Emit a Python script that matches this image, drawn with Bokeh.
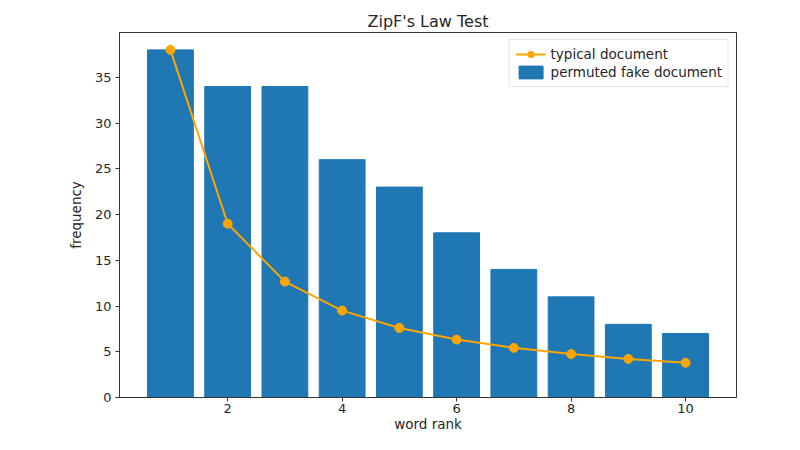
from bokeh.plotting import figure
from bokeh.models import FixedTicker, Range1d, Legend, LegendItem
from bokeh.embed import file_html
from bokeh.resources import INLINE

ranks = [1, 2, 3, 4, 5, 6, 7, 8, 9, 10]
fake_freq = [38, 34, 34, 26, 23, 18, 14, 11, 8, 7]
typical_freq = [38, 19, 12.67, 9.5, 7.6, 6.33, 5.43, 4.75, 4.22, 3.8]
x_ticks = [2, 4, 6, 8, 10]
y_ticks = [0, 5, 10, 15, 20, 25, 30, 35]

FONT = "DejaVu Sans"
TXT = "#262626"

p = figure(width=784, height=434, output_backend="svg", toolbar_location=None,
           x_range=Range1d(0.11, 10.89), y_range=Range1d(0, 39.9),
           title="ZipF's Law Test")
p.min_border_left = 119
p.min_border_right = 48
p.min_border_top = 32
p.min_border_bottom = 30
p.background_fill_color = "white"
p.border_fill_color = "white"
p.outline_line_color = "#333333"
p.outline_line_width = 1
p.grid.visible = False

p.title.align = "center"
p.title.text_font = FONT
p.title.text_font_size = "16px"
p.title.text_font_style = "normal"
p.title.text_color = TXT
p.title.offset = 0
p.title.standoff = 4

bars = p.vbar(x=ranks, top=fake_freq, width=0.8, color="#1f77b4")
ln = p.line(ranks, typical_freq, line_color="orange", line_width=2)
sc = p.scatter(ranks, typical_freq, size=9, color="orange")

for ax in (p.xaxis[0], p.yaxis[0]):
    ax.major_label_text_font = FONT
    ax.major_label_text_font_size = "13px"
    ax.major_label_text_color = TXT
    ax.axis_label_text_font = FONT
    ax.axis_label_text_font_size = "13.5px"
    ax.axis_label_text_font_style = "normal"
    ax.axis_label_text_color = TXT
    ax.minor_tick_line_color = None
    ax.major_tick_out = 4
    ax.major_tick_in = 0
    ax.axis_line_color = "#333333"
    ax.major_tick_line_color = "#333333"

p.xaxis[0].ticker = FixedTicker(ticks=x_ticks)
p.yaxis[0].ticker = FixedTicker(ticks=y_ticks)
p.xaxis[0].axis_label = "word rank"
p.yaxis[0].axis_label = "frequency"
p.xaxis[0].axis_label_standoff = 0
p.xaxis[0].major_label_standoff = 2
p.yaxis[0].axis_label_standoff = 8
p.yaxis[0].major_label_standoff = 4

legend = Legend(items=[
    LegendItem(label="typical document", renderers=[ln, sc]),
    LegendItem(label="permuted fake document", renderers=[bars]),
], location="top_right")
legend.margin = 7
legend.padding = 6
legend.spacing = 2
legend.label_text_font = FONT
legend.label_text_font_size = "13.5px"
legend.label_text_color = TXT
legend.glyph_width = 30
legend.glyph_height = 16
legend.label_height = 16
legend.border_line_color = "#cccccc"
legend.background_fill_alpha = 0.8
p.add_layout(legend)

open("out.html", "w").write(file_html(p, INLINE))
